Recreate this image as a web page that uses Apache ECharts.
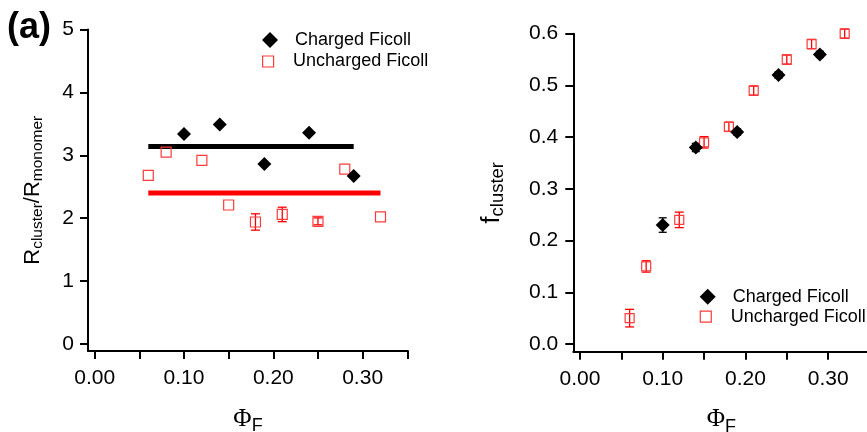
<!DOCTYPE html>
<html>
<head>
<meta charset="utf-8">
<script src="https://cdn.jsdelivr.net/npm/echarts@6/dist/echarts.min.js"></script>
<style>
html,body{margin:0;padding:0;background:#fff;}
#chart{width:867px;height:432px;}
</style>
</head>
<body>
<div id="chart"></div>
<script>
// ---------- data ----------
const phiCharged = [0.10, 0.14, 0.19, 0.24, 0.29];
const ratioCharged = [3.34, 3.49, 2.86, 3.36, 2.67];
const ratioChargedErr = [0, 0, 0, 0, 0];

const phiUncharged = [0.06, 0.08, 0.12, 0.15, 0.18, 0.21, 0.25, 0.28, 0.32];
const ratioUncharged = [2.68, 3.05, 2.92, 2.21, 1.94, 2.06, 1.95, 2.78, 2.02];
const ratioUnchargedErr = [0, 0, 0, 0, 0.13, 0.115, 0.055, 0, 0];

const meanChargedRange = [0.06, 0.29];
const meanCharged = 3.14;
const meanUnchargedRange = [0.06, 0.32];
const meanUncharged = 2.40;

const fCharged = [0.23, 0.38, 0.41, 0.52, 0.56];
const fChargedErr = [0.014, 0.008, 0.006, 0.006, 0.006];
const fUncharged = [0.05, 0.15, 0.24, 0.39, 0.42, 0.49, 0.55, 0.58, 0.60];
const fUnchargedErr = [0.017, 0.011, 0.015, 0.011, 0.009, 0.009, 0.009, 0.009, 0.009];

const xTicks = [0, 0.05, 0.10, 0.15, 0.20, 0.25, 0.30, 0.35];
const xLabels = [0, 0.10, 0.20, 0.30];
const yTicksLeft = [0, 1, 2, 3, 4, 5];
const yTicksRight = [0, 0.1, 0.2, 0.3, 0.4, 0.5, 0.6];

const seriesNames = ['Charged Ficoll', 'Uncharged Ficoll'];

// ---------- styling ----------
const FONT = 'Liberation Sans, Arial, sans-serif';
const RED = '#ff0000';
const SQ_RED = '#ff3b3b';

const chart = echarts.init(document.getElementById('chart'), null, {renderer: 'canvas'});

function zip(xs, ys) { return xs.map((x, i) => [x, ys[i]]); }

function errSeries(axisIdx, xs, ys, errs, color, capW) {
  return {
    type: 'custom',
    xAxisIndex: axisIdx, yAxisIndex: axisIdx,
    data: xs.map((x, i) => [x, ys[i] - errs[i], ys[i] + errs[i]]),
    silent: true,
    z: 2,
    renderItem: function (params, api) {
      if (api.value(2) - api.value(1) <= 0) return null;
      const lo = api.coord([api.value(0), api.value(1)]);
      const hi = api.coord([api.value(0), api.value(2)]);
      const st = {stroke: color, lineWidth: 1.3};
      return {
        type: 'group',
        children: [
          {type: 'line', shape: {x1: lo[0], y1: lo[1], x2: hi[0], y2: hi[1]}, style: st},
          {type: 'line', shape: {x1: lo[0] - capW / 2, y1: lo[1], x2: lo[0] + capW / 2, y2: lo[1]}, style: st},
          {type: 'line', shape: {x1: hi[0] - capW / 2, y1: hi[1], x2: hi[0] + capW / 2, y2: hi[1]}, style: st}
        ]
      };
    }
  };
}

const axisLine = {show: true, onZero: false, lineStyle: {color: '#000', width: 2}};
const axisTick = (vals) => ({show: true, inside: false, length: 8, lineStyle: {color: '#000', width: 2}, customValues: vals});

function xAxis(gridIndex, min, max) {
  return {
    type: 'value', gridIndex: gridIndex, min: min, max: max,
    axisLine: axisLine,
    axisTick: axisTick(xTicks),
    axisLabel: {show: true, customValues: xLabels, margin: 17, fontSize: 21, color: '#000', fontFamily: FONT,
      formatter: v => v.toFixed(2)},
    splitLine: {show: false},
    name: '{phi|Φ}{sub|F}',
    nameLocation: 'middle',
    nameGap: 52,
    nameTextStyle: {
      rich: {
        phi: {fontFamily: 'Liberation Serif, DejaVu Serif, serif', fontSize: 25, color: '#000'},
        sub: {fontFamily: FONT, fontSize: 18, color: '#000', padding: [14, 0, 0, 0]}
      }
    }
  };
}

const opt = {
  animation: false,
  backgroundColor: '#fff',
  textStyle: {fontFamily: FONT},
  grid: [
    {left: 88, top: 29.5, width: 320, height: 321.5, containLabel: false, outerBoundsMode: 'none'},
    {left: 573.3, top: 33.7, width: 296.2, height: 318, containLabel: false, outerBoundsMode: 'none'}
  ],
  xAxis: [
    xAxis(0, -0.0075, 0.3508),
    xAxis(1, -0.0081, 0.35)
  ],
  yAxis: [
    {
      type: 'value', gridIndex: 0, min: -0.111, max: 5,
      axisLine: axisLine,
      axisTick: axisTick(yTicksLeft),
      axisLabel: {show: true, customValues: yTicksLeft, margin: 14, fontSize: 21, color: '#000', fontFamily: FONT,
        formatter: v => String(Math.round(v))},
      splitLine: {show: false},
      name: '{m|R}{s|cluster}{m|/R}{s|monomer}',
      nameLocation: 'middle', nameRotate: 90, nameGap: 42,
      nameTextStyle: {rich: {
        m: {fontSize: 22, color: '#000', fontFamily: FONT},
        s: {fontSize: 15.5, color: '#000', fontFamily: FONT, padding: [11, 0, 0, 0]}
      }}
    },
    {
      type: 'value', gridIndex: 1, min: -0.0149, max: 0.6,
      axisLine: axisLine,
      axisTick: axisTick(yTicksRight),
      axisLabel: {show: true, customValues: yTicksRight, margin: 15, fontSize: 21, color: '#000', fontFamily: FONT,
        formatter: v => v.toFixed(1)},
      splitLine: {show: false},
      name: '{m|f}{s|cluster}',
      nameLocation: 'middle', nameRotate: 90, nameGap: 66,
      nameTextStyle: {rich: {
        m: {fontSize: 25, color: '#000', fontFamily: FONT},
        s: {fontSize: 18.5, color: '#000', fontFamily: FONT, padding: [12, 0, 0, 0]}
      }}
    }
  ],
  legend: [],
  graphic: [
    {type: 'text', left: 7, top: 10, style: {text: '(a)', font: 'bold 36px ' + FONT, fill: '#000'}}
  ],
  series: [
    // left panel
    {type: 'line', xAxisIndex: 0, yAxisIndex: 0, symbol: 'none', silent: true, z: 1,
      data: [[meanChargedRange[0], meanCharged], [meanChargedRange[1], meanCharged]],
      lineStyle: {color: '#000', width: 5, cap: 'butt'}},
    {type: 'line', xAxisIndex: 0, yAxisIndex: 0, symbol: 'none', silent: true, z: 1,
      data: [[meanUnchargedRange[0], meanUncharged], [meanUnchargedRange[1], meanUncharged]],
      lineStyle: {color: RED, width: 5, cap: 'butt'}},
    errSeries(0, phiUncharged, ratioUncharged, ratioUnchargedErr, RED, 9),
    {type: 'scatter', name: seriesNames[1], xAxisIndex: 0, yAxisIndex: 0, z: 3,
      symbol: 'rect', symbolSize: 10, data: zip(phiUncharged, ratioUncharged),
      itemStyle: {color: 'rgba(0,0,0,0)', borderColor: SQ_RED, borderWidth: 1.2, opacity: 1}},
    errSeries(0, phiCharged, ratioCharged, ratioChargedErr, '#000', 8),
    {type: 'scatter', name: seriesNames[0], xAxisIndex: 0, yAxisIndex: 0, z: 4,
      symbol: 'diamond', symbolSize: 14, data: zip(phiCharged, ratioCharged),
      itemStyle: {color: '#000', opacity: 1}},
    // right panel
    errSeries(1, phiUncharged, fUncharged, fUnchargedErr, RED, 9),
    {type: 'scatter', name: seriesNames[1], xAxisIndex: 1, yAxisIndex: 1, z: 3,
      symbol: 'rect', symbolSize: 9, data: zip(phiUncharged, fUncharged),
      itemStyle: {color: 'rgba(0,0,0,0)', borderColor: SQ_RED, borderWidth: 1.2, opacity: 1}},
    errSeries(1, phiCharged, fCharged, fChargedErr, '#000', 8),
    {type: 'scatter', name: seriesNames[0], xAxisIndex: 1, yAxisIndex: 1, z: 4,
      symbol: 'diamond', symbolSize: 14, data: zip(phiCharged, fCharged),
      itemStyle: {color: '#000', opacity: 1}}
  ]
};

function legendItem(name, left, top, isCharged) {
  return {
    orient: 'vertical', left: left, top: top, padding: 0,
    itemWidth: 40, itemHeight: isCharged ? 16 : 11,
    selectedMode: false, symbolKeepAspect: true,
    data: [isCharged
      ? {name: name, icon: 'path://M0,-1L1,0L0,1L-1,0Z', itemStyle: {color: '#000', borderWidth: 0, opacity: 1}}
      : {name: name, icon: 'path://M0,0L1,0L1,1L0,1Z', itemStyle: {color: 'rgba(0,0,0,0)', borderColor: SQ_RED, borderWidth: 1.2, opacity: 1}}],
    textStyle: {fontSize: 18, lineHeight: 18, color: '#000', fontFamily: FONT}
  };
}
opt.legend = [
  legendItem(seriesNames[0], 262, 31, true),
  legendItem(seriesNames[1], 262, 52.5, false),
  legendItem(seriesNames[0], 699.7, 287.7, true),
  legendItem(seriesNames[1], 699.7, 307.7, false)
];

chart.setOption(opt);
</script>
</body>
</html>
